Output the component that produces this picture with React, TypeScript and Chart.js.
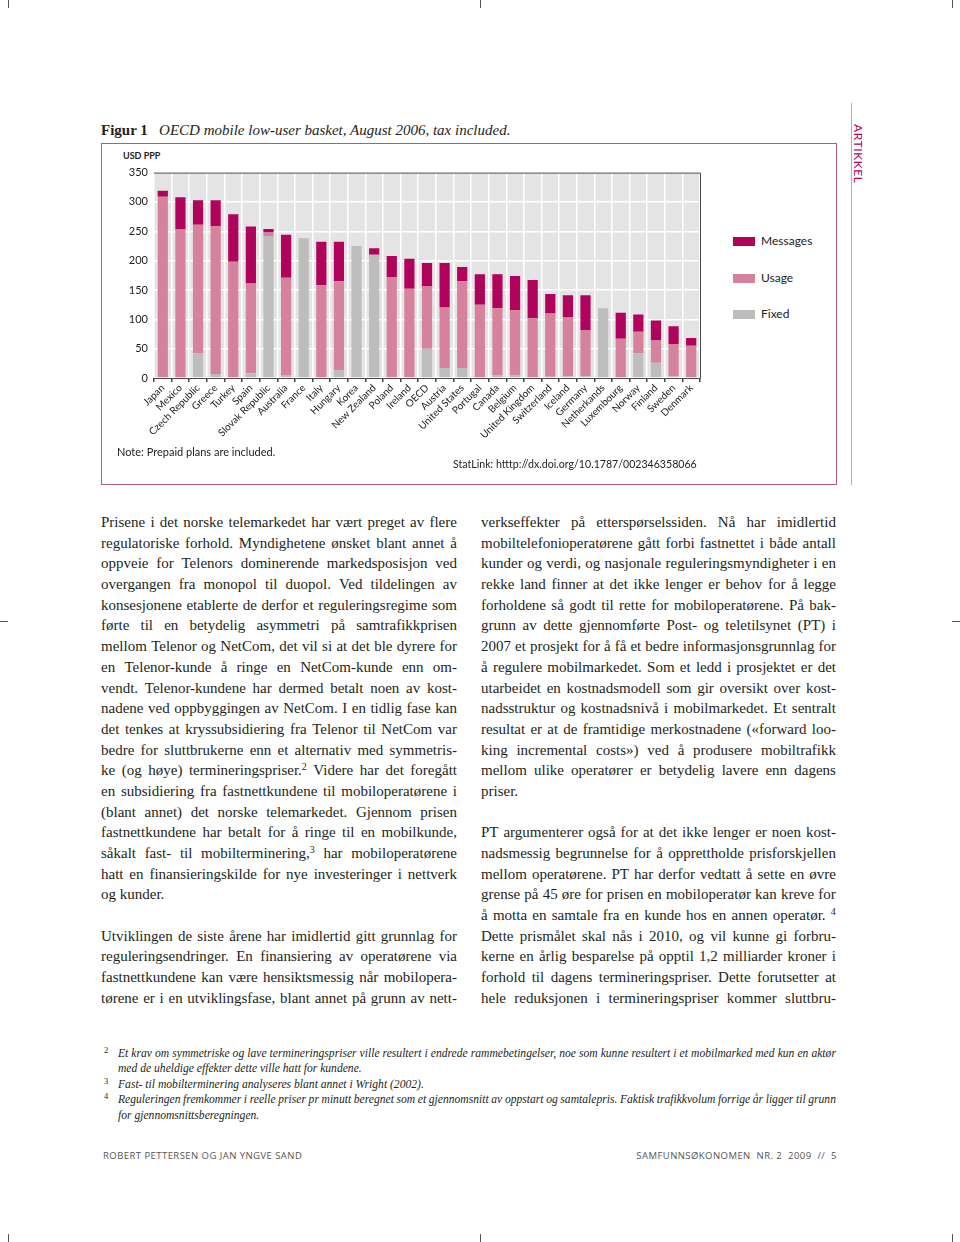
import React, { useEffect, useRef } from "react";
import { Chart, registerables } from "chart.js";

Chart.register(...registerables);

const countries = [
  "Japan", "Mexico", "Czech Republic", "Greece", "Turkey", "Spain", "Slovak Republic",
  "Australia", "France", "Italy", "Hungary", "Korea", "New Zealand", "Poland", "Ireland",
  "OECD", "Austria", "United States", "Portugal", "Canada", "Belgium", "United Kingdom",
  "Switzerland", "Iceland", "Germany", "Netherkands", "Luxembourg", "Norway", "Finland",
  "Sweden", "Denmark",
];
const fixedValues = [0, 0, 42, 7, 0, 8, 242, 5, 238, 0, 13, 225, 210, 0, 0, 50, 17, 17, 0, 5, 5, 0, 2, 3, 3, 119, 0, 42, 26, 3, 0];
const usageValues = [309, 253, 219, 252, 198, 153, 6, 166, 0, 158, 152, 0, 0, 172, 152, 106, 103, 148, 125, 114, 111, 102, 108, 100, 78, 0, 67, 37, 38, 55, 55];
const messageValues = [10, 55, 42, 44, 81, 97, 6, 73, 0, 74, 67, 0, 11, 36, 51, 40, 76, 24, 52, 58, 58, 65, 33, 38, 60, 0, 44, 29, 34, 30, 13];
const yMin = 0;
const yMax = 350;
const yStep = 50;

const seriesNames = ["Messages", "Usage", "Fixed"];
const seriesColors = ["#b0045c", "#d6829c", "#bdbdbd"];

const leftColumn = [
  "Prisene i det norske telemarkedet har vært preget av flere",
  "regulatoriske forhold. Myndighetene ønsket blant annet å",
  "oppveie for Telenors dominerende markedsposisjon ved",
  "overgangen fra monopol til duopol. Ved tildelingen av",
  "konsesjonene etablerte de derfor et reguleringsregime som",
  "førte til en betydelig asymmetri på samtrafikkprisen",
  "mellom Telenor og NetCom, det vil si at det ble dyrere for",
  "en Telenor-kunde å ringe en NetCom-kunde enn om-",
  "vendt. Telenor-kundene har dermed betalt noen av kost-",
  "nadene ved oppbyggingen av NetCom. I en tidlig fase kan",
  "det tenkes at kryssubsidiering fra Telenor til NetCom var",
  "bedre for sluttbrukerne enn et alternativ med symmetris-",
  "ke (og høye) termineringspriser.^2 Videre har det foregått",
  "en subsidiering fra fastnettkundene til mobiloperatørene i",
  "(blant annet) det norske telemarkedet. Gjennom prisen",
  "fastnettkundene har betalt for å ringe til en mobilkunde,",
  "såkalt fast- til mobilterminering,^3 har mobiloperatørene",
  "hatt en finansieringskilde for nye investeringer i nettverk",
  "=og kunder.",
  "",
  "Utviklingen de siste årene har imidlertid gitt grunnlag for",
  "reguleringsendringer. En finansiering av operatørene via",
  "fastnettkundene kan være hensiktsmessig når mobilopera-",
  "tørene er i en utviklingsfase, blant annet på grunn av nett-",
];

const rightColumn = [
  "verkseffekter på etterspørselssiden. Nå har imidlertid",
  "mobiltelefonioperatørene gått forbi fastnettet i både antall",
  "kunder og verdi, og nasjonale reguleringsmyndigheter i en",
  "rekke land finner at det ikke lenger er behov for å legge",
  "forholdene så godt til rette for mobiloperatørene. På bak-",
  "grunn av dette gjennomførte Post- og teletilsynet (PT) i",
  "2007 et prosjekt for å få et bedre informasjonsgrunnlag for",
  "å regulere mobilmarkedet. Som et ledd i prosjektet er det",
  "utarbeidet en kostnadsmodell som gir oversikt over kost-",
  "nadsstruktur og kostnadsnivå i mobilmarkedet. Et sentralt",
  "resultat er at de framtidige merkostnadene («forward loo-",
  "king incremental costs») ved å produsere mobiltrafikk",
  "mellom ulike operatører er betydelig lavere enn dagens",
  "=priser.",
  "",
  "PT argumenterer også for at det ikke lenger er noen kost-",
  "nadsmessig begrunnelse for å opprettholde prisforskjellen",
  "mellom operatørene. PT har derfor vedtatt å sette en øvre",
  "grense på 45 øre for prisen en mobiloperatør kan kreve for",
  "å motta en samtale fra en kunde hos en annen operatør. ^4",
  "Dette prismålet skal nås i 2010, og vil kunne gi forbru-",
  "kerne en årlig besparelse på opptil 1,2 milliarder kroner i",
  "forhold til dagens termineringspriser. Dette forutsetter at",
  "hele reduksjonen i termineringspriser kommer sluttbru-",
];

const footnotes = [
  { n: "2", lines: ["Et krav om symmetriske og lave termineringspriser ville resultert i endrede rammebetingelser, noe som kunne resultert i et mobilmarked med kun en aktør", "=med de uheldige effekter dette ville hatt for kundene."] },
  { n: "3", lines: ["=Fast- til mobilterminering analyseres blant annet i Wright (2002)."] },
  { n: "4", lines: ["Reguleringen fremkommer i reelle priser pr minutt beregnet som et gjennomsnitt av oppstart og samtalepris. Faktisk trafikkvolum forrige år ligger til grunn", "=for gjennomsnittsberegningen."] },
];

const SERIF = "'Liberation Serif', 'DejaVu Serif', serif";
const SANS = "Lato, 'Open Sans', 'Liberation Sans', sans-serif";

function renderWord(w: string, supSize: number) {
  const parts = w.split(/\^(\d)/);
  return parts.map((p, i) =>
    i % 2 === 1 ? (
      <span key={i} style={{ fontSize: supSize, position: "relative", top: -supSize * 0.55, lineHeight: 0 }}>{p}</span>
    ) : (
      <React.Fragment key={i}>{p}</React.Fragment>
    )
  );
}

function TextLine({ text, lh, supSize }: { text: string; lh: number; supSize: number }) {
  if (text === "") return <div style={{ height: lh }} />;
  if (text.startsWith("=")) {
    return <div style={{ height: lh, lineHeight: lh + "px", whiteSpace: "pre" }}>{renderWord(text.slice(1), supSize)}</div>;
  }
  const words = text.split(" ");
  return (
    <div style={{ height: lh, lineHeight: lh + "px", display: "flex", justifyContent: "space-between", whiteSpace: "pre" }}>
      {words.map((w, i) => (
        <span key={i}>{renderWord(w, supSize)}</span>
      ))}
    </div>
  );
}

function BarChart() {
  const ref = useRef<HTMLCanvasElement | null>(null);
  useEffect(() => {
    if (!ref.current) return;
    const framePlugin = {
      id: "frame",
      beforeDraw(chart: any) {
        const { ctx, chartArea: a } = chart;
        ctx.save();
        ctx.fillStyle = "#e4e4e4";
        ctx.fillRect(a.left, a.top, a.right - a.left, a.bottom - a.top);
        ctx.restore();
      },
      afterDraw(chart: any) {
        const { ctx, chartArea: a } = chart;
        ctx.save();
        ctx.strokeStyle = "#4a4a4a";
        ctx.lineWidth = 1;
        ctx.beginPath();
        ctx.moveTo(a.left, a.top + 0.5);
        ctx.lineTo(a.right + 0.5, a.top + 0.5);
        ctx.lineTo(a.right + 0.5, a.bottom + 0.5);
        ctx.lineTo(a.left, a.bottom + 0.5);
        ctx.stroke();
        ctx.restore();
      },
    };
    const chart = new Chart(ref.current, {
      type: "bar",
      data: {
        labels: countries,
        datasets: [
          { label: seriesNames[2], data: fixedValues, backgroundColor: seriesColors[2], borderWidth: 0 },
          { label: seriesNames[1], data: usageValues, backgroundColor: seriesColors[1], borderWidth: 0 },
          { label: seriesNames[0], data: messageValues, backgroundColor: seriesColors[0], borderWidth: 0 },
        ],
      },
      options: {
        animation: false,
        responsive: false,
        maintainAspectRatio: false,
        layout: { padding: { left: 0, right: 10, top: 10, bottom: 0 } },
        datasets: { bar: { barPercentage: 0.58, categoryPercentage: 1 } },
        plugins: { legend: { display: false }, tooltip: { enabled: false } },
        scales: {
          x: {
            stacked: true,
            grid: { color: "#ffffff", lineWidth: 1.5, offset: true, tickColor: "#444", tickLength: 4, drawTicks: true },
            border: { display: false },
            ticks: {
              autoSkip: false,
              minRotation: 45,
              maxRotation: 45,
              padding: 0,
              color: "#222",
              font: { family: SANS, size: 10 },
            },
            afterFit: (s: any) => {
              s.height = 72;
            },
          },
          y: {
            stacked: true,
            min: yMin,
            max: yMax,
            grid: { color: "#ffffff", lineWidth: 1.5, drawTicks: false },
            border: { display: false },
            ticks: {
              stepSize: yStep,
              padding: 6,
              color: "#222",
              font: { family: SANS, size: 11 },
            },
            afterFit: (s: any) => {
              s.width = 44;
            },
          },
        },
      },
      plugins: [framePlugin],
    } as any);
    return () => chart.destroy();
  }, []);
  return <canvas ref={ref} width={600} height={290} style={{ position: "absolute", left: 110, top: 160, width: 600, height: 290 }} />;
}

const abs = (l: number, t: number, extra: React.CSSProperties = {}): React.CSSProperties => ({ position: "absolute", left: l, top: t, ...extra });

export default function App() {
  const LH = 20.7;
  const FLH = 15.4;
  const legendTops = [241, 278, 314];
  return (
    <div style={{ position: "absolute", left: 0, top: 0, width: 960, height: 1242, background: "#fff", overflow: "hidden", color: "#231f20" }}>
      {/* crop marks */}
      {[8, 480, 952].map((x) => (
        <React.Fragment key={x}>
          <div style={abs(x, 0, { width: 1, height: 8, background: "#555" })} />
          <div style={abs(x, 1234, { width: 1, height: 8, background: "#555" })} />
        </React.Fragment>
      ))}
      <div style={abs(0, 621, { width: 8, height: 1, background: "#555" })} />
      <div style={abs(952, 621, { width: 8, height: 1, background: "#555" })} />

      {/* side label */}
      <div style={abs(851, 103, { width: 1, height: 382, background: "#c9a0b8" })} />
      <div style={abs(852, 124, { writingMode: "vertical-rl", fontFamily: SANS, fontSize: 12, letterSpacing: 0.6, color: "#b0045c", lineHeight: "13px" })}>ARTIKKEL</div>

      {/* figure title */}
      <div style={abs(101, 121, { fontFamily: SERIF, fontSize: 15, lineHeight: "18px", whiteSpace: "pre" })}>
        <span style={{ fontWeight: "bold" }}>Figur 1</span>
        <span style={{ fontStyle: "italic" }}>{"   OECD mobile low-user basket, August 2006, tax included."}</span>
      </div>

      {/* figure frame */}
      <div style={abs(101, 143, { width: 734, height: 340, border: "1.5px solid #b5598c" })} />
      <div style={abs(123, 151, { fontFamily: SANS, fontSize: 9, fontWeight: "bold", lineHeight: "10px", color: "#222" })}>USD PPP</div>

      <BarChart />

      {/* legend */}
      {seriesNames.map((name, i) => (
        <React.Fragment key={name}>
          <div style={abs(733, legendTops[i] - 4.5, { width: 22, height: 9, background: seriesColors[i] })} />
          <div style={abs(761, legendTops[i] - 8, { fontFamily: SANS, fontSize: 12, lineHeight: "16px", color: "#222" })}>{name}</div>
        </React.Fragment>
      ))}

      <div style={abs(117, 445, { fontFamily: SANS, fontSize: 11, lineHeight: "14px", color: "#222" })}>Note: Prepaid plans are included.</div>
      <div style={abs(453, 457, { fontFamily: SANS, fontSize: 10.6, lineHeight: "14px", color: "#222" })}>StatLink: htttp://dx.doi.org/10.1787/002346358066</div>

      {/* body columns */}
      <div style={abs(101, 512, { width: 356, fontFamily: SERIF, fontSize: 15 })}>
        {leftColumn.map((t, i) => (
          <TextLine key={i} text={t} lh={LH} supSize={10} />
        ))}
      </div>
      <div style={abs(481, 512, { width: 355, fontFamily: SERIF, fontSize: 15 })}>
        {rightColumn.map((t, i) => (
          <TextLine key={i} text={t} lh={LH} supSize={10} />
        ))}
      </div>

      {/* footnotes */}
      <div style={abs(101, 1046, { width: 735, fontFamily: SERIF, fontSize: 11.6, fontStyle: "italic" })}>
        {footnotes.map((f) => (
          <div key={f.n} style={{ position: "relative", paddingLeft: 17 }}>
            <span style={{ position: "absolute", left: 3, top: -3, fontSize: 8.5, fontStyle: "normal", lineHeight: FLH + "px" }}>{f.n}</span>
            {f.lines.map((t, i) => (
              <TextLine key={i} text={t} lh={FLH} supSize={8} />
            ))}
          </div>
        ))}
      </div>

      {/* footer */}
      <div style={abs(103, 1150, { fontFamily: "'Open Sans', sans-serif", fontSize: 9.5, letterSpacing: 0.45, lineHeight: "12px", color: "#555", whiteSpace: "pre" })}>ROBERT PETTERSEN OG JAN YNGVE SAND</div>
      <div style={abs(537, 1150, { width: 300, textAlign: "right", fontFamily: "'Open Sans', sans-serif", fontSize: 9.5, letterSpacing: 0.45, lineHeight: "12px", color: "#555", whiteSpace: "pre" })}>{"SAMFUNNSØKONOMEN  NR. 2  2009  //  5"}</div>
    </div>
  );
}
